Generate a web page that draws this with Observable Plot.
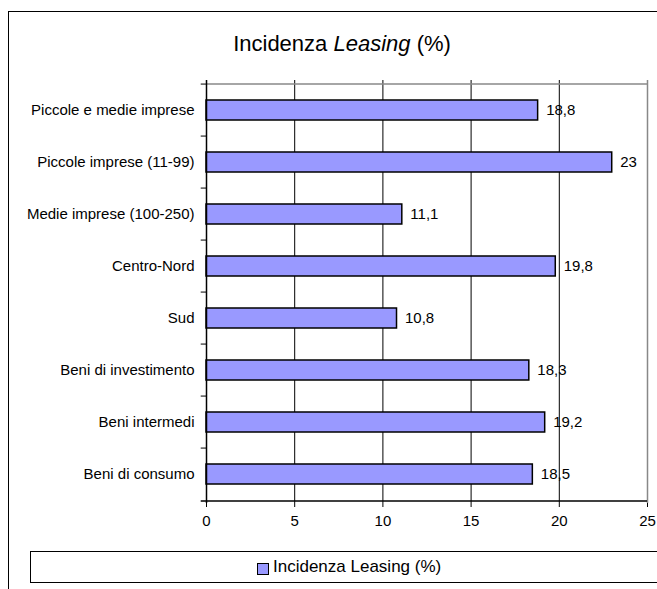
<!DOCTYPE html>
<html><head><meta charset="utf-8">
<script src="https://cdn.jsdelivr.net/npm/d3@7"></script>
<script src="https://cdn.jsdelivr.net/npm/@observablehq/plot@0.6"></script>
<style>
body{margin:0;background:#fff;font-family:"Liberation Sans",Arial,sans-serif;}
#wrap{position:relative;width:657px;height:589px;overflow:hidden;}
#frame{position:absolute;left:8px;top:11px;width:800px;height:800px;border:1px solid #000;}
#title{position:absolute;left:0;width:684px;top:31px;text-align:center;font-size:22px;line-height:26px;color:#000;}
#legend{position:absolute;left:30px;top:551px;width:800px;height:30px;border:1px solid #000;}
#legend .sw{position:absolute;left:226px;top:11px;width:10px;height:10px;background:#9999FF;border:1.5px solid #000;}
#legend .tx{position:absolute;left:242px;top:5px;font-size:17px;}
#chart{position:absolute;left:0;top:0;}
</style></head>
<body>
<div id="wrap">
<div id="frame"></div>
<div id="title">Incidenza <i>Leasing</i> (%)</div>
<div id="chart"></div>
<div id="legend"><div class="sw"></div><div class="tx">Incidenza Leasing (%)</div></div>
</div>
<script>
const categories = ["Piccole e medie imprese","Piccole imprese (11-99)","Medie imprese (100-250)","Centro-Nord","Sud","Beni di investimento","Beni intermedi","Beni di consumo"];
const values = [18.8, 23, 11.1, 19.8, 10.8, 18.3, 19.2, 18.5];
const xTicks = [0,5,10,15,20,25];
const seriesName = "Incidenza Leasing (%)";

const data = categories.map((c,i)=>({cat:c, v:values[i]}));
const fmt = v => String(v).replace(".", ",");
const H = 589, mT = 80, mB = 86;
const step = (H - mT - mB) / categories.length;

const plot = Plot.plot({
  width: 657, height: H,
  marginLeft: 206, marginRight: 10, marginTop: mT, marginBottom: mB,
  style:{fontFamily:'"Liberation Sans",Arial,sans-serif', fontSize:"15px", background:"transparent", overflow:"visible"},
  x:{domain:[0,25], ticks:xTicks, label:null},
  y:{domain:categories, paddingInner:0.62, paddingOuter:0.31, label:null, axis:null},
  marks:[
    Plot.ruleX([5,10,15,20], {stroke:"#000", strokeWidth:1}),
    Plot.ruleX([25], {stroke:"#888", strokeWidth:1.5}),
    Plot.ruleY([categories[0]], {y:d=>d, dy:-step/2, x1:0, x2:25, stroke:"#888", strokeWidth:1.5}),
    Plot.barX(data, {y:"cat", x:"v", fill:"#9999FF", stroke:"#000", strokeWidth:1.5}),
    Plot.text(data, {y:"cat", x:"v", text:d=>fmt(d.v), textAnchor:"start", dx:8, fill:"#000", fontSize:15}),
    Plot.text(data, {y:"cat", x:0, text:"cat", textAnchor:"end", dx:-12, fill:"#000", fontSize:15}),
    Plot.ruleY(categories, {y:d=>d, dy:-step/2, x1:-0.3, x2:0, stroke:"#000"}),
    Plot.ruleX([0], {stroke:"#000", strokeWidth:1.5}),
    Plot.axisX({ticks:xTicks, tickSize:4, tickPadding:8, stroke:"#000", fill:"#000", fontSize:15, label:null}),
    Plot.ruleY([categories[categories.length-1]], {y:d=>d, dy:step/2, x1:-0.3, x2:25, stroke:"#000", strokeWidth:1.5})
  ]
});
document.getElementById("chart").appendChild(plot);
</script>
</body></html>
